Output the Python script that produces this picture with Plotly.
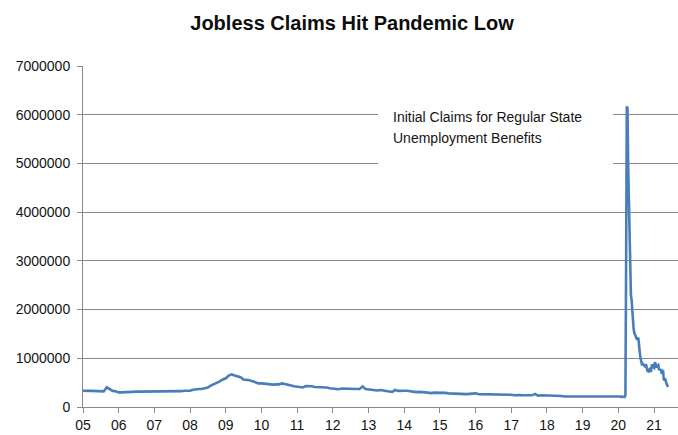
import pandas as pd
import plotly.graph_objects as go

# Monthly averages (thousands) 2005-2019
y2005 = [335, 325, 330, 330, 330, 330, 320, 320, 405, 360, 330, 325]
y2006 = [300, 300, 305, 310, 315, 310, 315, 315, 315, 310, 320, 320]
y2007 = [315, 325, 320, 325, 310, 315, 310, 320, 315, 325, 335, 335]
y2008 = [335, 355, 365, 370, 370, 385, 400, 440, 465, 485, 525, 565]
y2009 = [590, 645, 670, 645, 625, 610, 565, 565, 550, 530, 505, 485]
y2010 = [485, 475, 465, 465, 460, 465, 465, 485, 465, 455, 440, 425]
y2011 = [420, 405, 400, 430, 430, 425, 410, 410, 410, 405, 400, 385]
y2012 = [375, 365, 365, 380, 375, 380, 370, 370, 370, 370, 420, 370]
y2013 = [360, 350, 350, 340, 350, 345, 340, 320, 310, 350, 330, 340]
y2014 = [335, 335, 325, 315, 305, 310, 300, 300, 295, 285, 295, 295]
y2015 = [300, 290, 290, 280, 275, 275, 270, 275, 270, 265, 270, 275]
y2016 = [280, 265, 265, 260, 265, 265, 260, 265, 255, 260, 250, 260]
y2017 = [250, 240, 245, 245, 240, 245, 245, 240, 270, 235, 240, 240]
y2018 = [230, 225, 225, 225, 225, 225, 215, 215, 210, 215, 220, 220]
y2019 = [220, 225, 215, 210, 215, 220, 215, 215, 215, 220, 220, 220]

# Weekly values (thousands) for 2020 and 2021 (weeks ending Saturday)
w2020 = [220, 210, 215, 215,
         205, 210, 215, 220, 215,
         210, 250, 2920, 6170,
         6140, 4970, 4200, 3450,
         2850, 2300, 2200, 1950, 1750,
         1600, 1520, 1480, 1450,
         1400, 1380, 1420, 1400,
         1250, 1050, 1000, 950, 880,
         890, 870, 870, 850,
         820, 880, 800, 750, 750,
         710, 760, 800, 720,
         860, 880, 820, 800]
w2021 = [800, 920, 880, 840, 810,
         850, 860, 760, 780,
         750, 780, 680, 730,
         760, 570, 560, 590,
         500, 480, 450, 410]

monthly = (y2005 + y2006 + y2007 + y2008 + y2009 + y2010 + y2011 + y2012 +
           y2013 + y2014 + y2015 + y2016 + y2017 + y2018 + y2019)
weekly = w2020 + w2021

dates = list(pd.date_range("2005-01-01", periods=len(monthly), freq="MS")) + \
        list(pd.date_range("2020-01-04", periods=len(weekly), freq="W-SAT"))
values = [v * 1000 for v in monthly + weekly]

title_text = "Jobless Claims Hit Pandemic Low"
note_lines = ["Initial Claims for Regular State", "Unemployment Benefits"]

FONT = "Liberation Sans"
GRID = "#888888"

fig = go.Figure()
fig.add_trace(go.Scatter(x=dates, y=values, mode="lines",
                         line=dict(color="#4A7EBB", width=2.6),
                         hoverinfo="skip", showlegend=False))

L, R, T, B = 83, 0, 66, 28
W, H = 678, 435
pw, ph = W - L - R, H - T - B

def px(xp):
    return (xp - L) / pw

def py(yp):
    return (H - B - yp) / ph

fig.update_layout(
    width=W, height=H,
    margin=dict(l=L, r=R, t=T, b=B),
    paper_bgcolor="white", plot_bgcolor="white",
    font=dict(family=FONT, color="#141414", size=14),
    title=dict(text=f"<b>{title_text}</b>", x=352 / W, xanchor="center",
               y=1 - 23 / H, yanchor="middle",
               font=dict(family=FONT, size=20, color="#0d0d0d")),
    xaxis=dict(
        type="date", range=["2005-01-01", "2021-09-03"],
        tick0="2005-01-01", dtick="M12", tickformat="%y",
        showgrid=False, showline=True, linecolor=GRID, linewidth=1,
        ticks="outside", ticklen=5, tickcolor=GRID, tickwidth=1,
        tickfont=dict(size=14, color="#141414"),
        zeroline=False, fixedrange=True,
    ),
    yaxis=dict(
        range=[0, 7000000], dtick=1000000, tick0=0, tickformat="d",
        showgrid=True, gridcolor=GRID, gridwidth=1,
        showline=True, linecolor=GRID, linewidth=1,
        ticks="outside", ticklen=5, tickcolor=GRID, tickwidth=1,
        tickfont=dict(size=14, color="#141414"),
        ticklabelstandoff=4,
        zeroline=False, fixedrange=True,
    ),
    shapes=[dict(type="rect", xref="paper", yref="paper",
                 x0=px(378), x1=px(613), y0=py(172), y1=py(96),
                 fillcolor="white", line=dict(width=0), layer="above")],
    annotations=[
        dict(text=note_lines[0], xref="paper", yref="paper",
             x=px(391), y=py(117), xanchor="left", yanchor="middle",
             showarrow=False, font=dict(family=FONT, size=14, color="#141414")),
        dict(text=note_lines[1], xref="paper", yref="paper",
             x=px(391), y=py(138), xanchor="left", yanchor="middle",
             showarrow=False, font=dict(family=FONT, size=14, color="#141414")),
    ],
)

fig.write_html("out.html")
